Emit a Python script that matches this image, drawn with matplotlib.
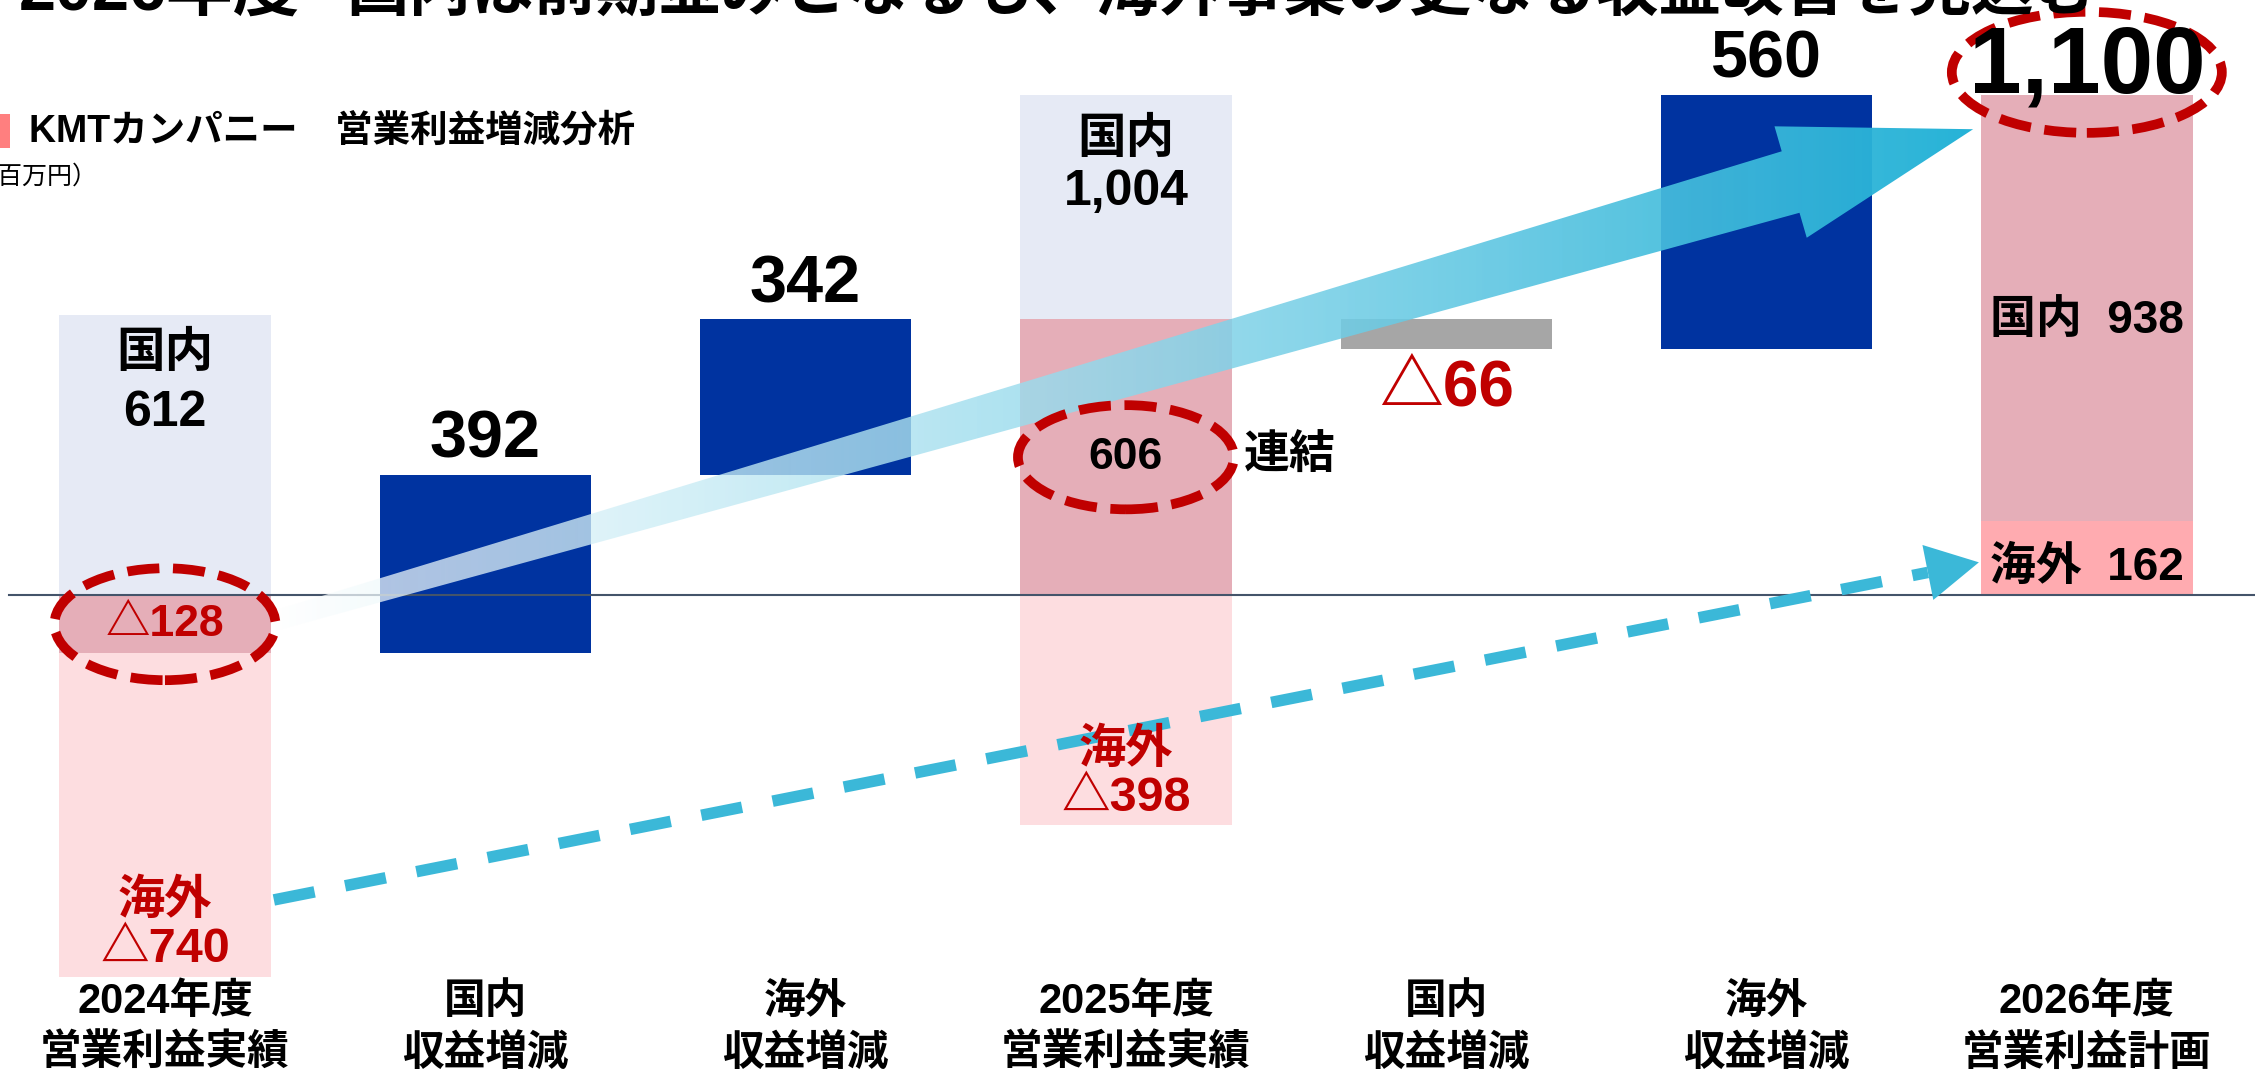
import numpy as np
import matplotlib
matplotlib.use("Agg")
import matplotlib.pyplot as plt
from matplotlib.patches import Ellipse, Polygon, Rectangle

plt.rcParams['font.family'] = ['Liberation Sans', 'Noto Sans CJK JP']
plt.rcParams['font.weight'] = 'bold'

# 単位：百万円
categories = ["2024年度\n営業利益実績", "国内\n収益増減", "海外\n収益増減", "2025年度\n営業利益実績",
              "国内\n収益増減", "海外\n収益増減", "2026年度\n営業利益計画"]
kokunai = [612, 1004, 938]        # 国内 2024 / 2025 / 2026
kaigai = [-740, -398, 162]        # 海外 2024 / 2025 / 2026
renketsu = [-128, 606, 1100]      # 連結 2024 / 2025 / 2026
zougen = [392, 342, -66, 560]     # 国内, 海外 (24→25), 国内, 海外 (25→26)
# 元スライドでは背景の棒が縮尺どおりではないので、見た目の高さ
kokunai_zu = [615, 1100]
kaigai_zu = [-840, -505]

title_a = "2026年度"
title_b = "国内は前期並みとなるも、海外事業の更なる収益改善を見込む"

BLUE = '#0033A0'
GRAY = '#A6A6A6'
LAV = '#E6EAF5'
PINK_L = '#FDDDE0'
PINK_D = '#E5AEB8'
PINK_S = '#FFABB0'
RED = '#C00000'
CYAN = '#3BB8D8'


def fmt(v):
    return f"△{abs(v):,}" if v < 0 else f"{v:,}"


W, H = 2255, 1076
fig = plt.figure(figsize=(W / 100, H / 100), dpi=100)
ax = fig.add_axes([0, 0, 1, 1])
XL, YL = (-0.515, 6.525), (-1057, 1308)
ax.set_xlim(*XL)
ax.set_ylim(*YL)
ax.axis('off')

x = np.arange(len(categories))
w = 0.66

# 実績の棒 (2024, 2025)
for i, j in [(0, 0), (3, 1)]:
    ax.bar(x[i], kokunai_zu[j], w, color=LAV, zorder=1)
    ax.bar(x[i], kaigai_zu[j], w, color=PINK_L, zorder=1)
    ax.bar(x[i], renketsu[j], w, color=PINK_D, zorder=2)

# 増減の棒
steps_x = [1, 2, 4, 5]
starts = [renketsu[0], renketsu[0] + zougen[0], renketsu[1], renketsu[1] + zougen[2]]
step_cols = [BLUE, BLUE, GRAY, BLUE]
for xi, s, d, c in zip(steps_x, starts, zougen, step_cols):
    ax.bar(x[xi], d, w, bottom=s, color=c, zorder=2)
    if d > 0:
        ax.text(x[xi], s + d + 75, fmt(d), ha='center', va='center', fontsize=48, zorder=10)
    else:
        ax.text(x[xi], s + d - 85, fmt(d), ha='center', va='center', fontsize=46, color=RED, zorder=10)

# 計画の棒 (2026)
ax.bar(x[6], kaigai[2], w, color=PINK_S, zorder=2)
ax.bar(x[6], kokunai[2], w, bottom=kaigai[2], color=PINK_D, zorder=2)

ax.axhline(0, xmin=9 / W, color='#44546A', lw=1.5, zorder=4)

# ---- 大きなグラデーション矢印 ----
to_px = ax.transData.transform
to_data = ax.transData.inverted().transform
tail = to_px((0.34, -57))
tip = to_px((5.645, 1024))
d = tip - tail
u = d / np.hypot(*d)
n = np.array([-u[1], u[0]])
base = tip - 190 * u
pts = np.array([tail + 10 * n, base + 32 * n, base + 58 * n, tip,
                base - 58 * n, base - 32 * n, tail - 10 * n])
pd_ = to_data(pts)
poly = Polygon(pd_, closed=True, facecolor='none', edgecolor='none')
ax.add_patch(poly)
t = np.linspace(0, 1, 256)
c0 = np.array([1.0, 1.0, 1.0])
c1 = np.array([0.12, 0.69, 0.84])
grad = np.zeros((1, 256, 4))
grad[0, :, :3] = c0 + (c1 - c0) * t[:, None]
grad[0, :, 3] = 0.72 + 0.25 * t
im = ax.imshow(grad, extent=[pd_[:, 0].min(), pd_[:, 0].max(), pd_[:, 1].min(), pd_[:, 1].max()],
               aspect='auto', zorder=5, interpolation='bilinear')
im.set_clip_path(poly)
ax.set_xlim(*XL)
ax.set_ylim(*YL)

# ---- 点線の矢印 (海外) ----
tail2 = to_px((0.34, -670))
tip2 = to_px((5.663, 72))
d2 = tip2 - tail2
u2 = d2 / np.hypot(*d2)
n2 = np.array([-u2[1], u2[0]])
base2 = tip2 - 52 * u2
line = to_data(np.array([tail2, base2]))
ax.plot(line[:, 0], line[:, 1], color=CYAN, lw=8.3, linestyle=(0, (3.6, 2.7)),
        solid_capstyle='butt', dash_capstyle='butt', zorder=6)
head = to_data(np.array([base2 + 28 * n2, tip2, base2 - 28 * n2]))
ax.add_patch(Polygon(head, closed=True, color=CYAN, lw=0, zorder=6))

# ---- 赤い点線の楕円 ----
ell_style = dict(fill=False, edgecolor=RED, lw=7, linestyle=(0, (3.3, 1.4)), zorder=8)
ax.add_patch(Ellipse((x[0], renketsu[0] / 2), 0.69, 246, **ell_style))
ax.add_patch(Ellipse((x[3], renketsu[1] / 2), 0.674, 229, **ell_style))
ax.add_patch(Ellipse((x[6], renketsu[2] + 49), 0.843, 266, **ell_style))

# ---- 棒のラベル ----
ax.text(x[0], 530, "国内", ha='center', va='center', fontsize=35, zorder=10)
ax.text(x[0], 400, fmt(kokunai[0]), ha='center', va='center', fontsize=36, zorder=10)
ax.text(x[0], renketsu[0] / 2, fmt(renketsu[0]), ha='center', va='center', fontsize=32,
        color=RED, zorder=10)
ax.text(x[0], -675, "海外", ha='center', va='center', fontsize=34, color=RED, zorder=10)
ax.text(x[0], -778, fmt(kaigai[0]), ha='center', va='center', fontsize=35, color=RED, zorder=10)

ax.text(x[3], 1000, "国内", ha='center', va='center', fontsize=35, zorder=10)
ax.text(x[3], 885, fmt(kokunai[1]), ha='center', va='center', fontsize=36, zorder=10)
ax.text(x[3], renketsu[1] / 2, fmt(renketsu[1]), ha='center', va='center', fontsize=32, zorder=10)
ax.text(3.369, renketsu[1] / 2, "連結", ha='left', va='center', fontsize=33, zorder=10)
ax.text(x[3], -343, "海外", ha='center', va='center', fontsize=34, color=RED, zorder=10)
ax.text(x[3], -446, fmt(kaigai[1]), ha='center', va='center', fontsize=35, color=RED, zorder=10)

ax.text(x[6], renketsu[2] + 58, fmt(renketsu[2]), ha='center', va='center', fontsize=68, zorder=10)
ax.text(x[6], 602, f"国内  {kokunai[2]:,}", ha='center', va='center', fontsize=33, zorder=10)
ax.text(x[6], 59, f"海外  {kaigai[2]:,}", ha='center', va='center', fontsize=33, zorder=10)

# ---- 項目名 ----
for i, c in enumerate(categories):
    l1, l2 = c.split("\n")
    ax.text(x[i], -895, l1, ha='center', va='center', fontsize=30)
    ax.text(x[i], -1009, l2, ha='center', va='center', fontsize=30)

# ---- 見出し (上端で切れている) ----
fig.text(300 / W, 1 - 10 / H, title_a, ha='right', va='baseline', fontsize=48)
fig.text(346 / W, 1 - 10 / H, title_b, ha='left', va='baseline', fontsize=45)
fig.add_artist(Rectangle((0, 1 - 148 / H), 10 / W, 34 / H, transform=fig.transFigure,
                         color='#FF7F7F', lw=0))
fig.text(29 / W, 1 - 132 / H, "KMTカンパニー　営業利益増減分析", ha='left', va='center', fontsize=27)
fig.text(-27 / W, 1 - 177 / H, "（百万円）", ha='left', va='center', fontsize=18, fontweight='normal')

fig.savefig("out.png", dpi=100)
